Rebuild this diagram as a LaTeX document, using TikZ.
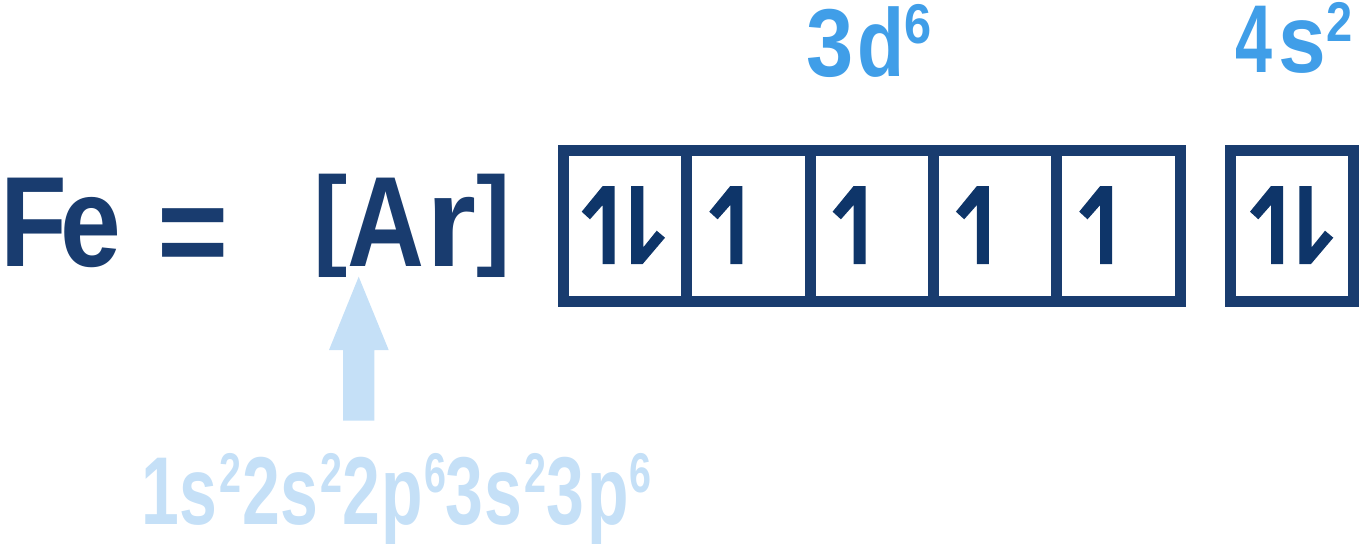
\documentclass[tikz,border=0pt]{standalone}
\usepackage{fontspec}
\setmainfont{Liberation Sans}
\definecolor{navy}{RGB}{25,60,111}
\definecolor{harp}{RGB}{14,53,105}
\definecolor{midblue}{RGB}{64,158,232}
\definecolor{lightblue}{RGB}{197,224,247}
\newcommand\SupTxt[2]{\raisebox{#1pt}{\fontsize{56}{56}\selectfont #2}}
\newcommand\UpHarp[1]{\fill[harp] ({#1+39.2},186) -- ({#1+51.2},186) -- ({#1+51.2},264) -- ({#1+39.2},264) -- ({#1+39.2},205) -- ({#1+26.5},219.3) -- ({#1+18.2},211.7) -- cycle;}
\newcommand\DownHarp[1]{\fill[harp] ({#1+67.5},186) -- ({#1+79.8},186) -- ({#1+79.8},247.3) -- ({#1+93.2},230.7) -- ({#1+101.5},237.7) -- ({#1+79.2},264) -- ({#1+67.5},264) -- cycle;}
\newcommand\Brk[1]{\raisebox{11.3pt}{\scalebox{0.8}[0.863]{#1}}}
\begin{document}
\begin{tikzpicture}[x=1pt,y=-1pt,
  txt/.style={inner sep=0pt, outer sep=0pt, anchor=base west},
  big/.style={font=\fontsize{128.5}{130}\selectfont\bfseries},
  mid/.style={font=\fontsize{96.4}{98}\selectfont\bfseries},
  cell/.style={draw=navy, line width=11pt, inner sep=0pt, outer sep=0pt, minimum width=123.3pt, minimum height=151pt}]
\useasboundingbox (0,0) rectangle (1360,544);
% texts
\node[txt, big, text=navy] (fe) at (0,266) {\scalebox{0.85}[1]{F\kern-7pt e}};
\node[txt, big, text=navy] (eq) at (157,275) {\scalebox{0.95}[1]{=}};
\node[txt, big, text=navy] (ar) at (313,266) {\Brk{[}\scalebox{0.83}[1]{A}\kern2.2pt r\Brk{]}};
\node[txt, mid, text=midblue] (d6) at (806.3,76) {\scalebox{0.88}[1]{3}\kern3.8pt\scalebox{0.8}[1]{d}\scalebox{0.87}[1]{\SupTxt{32.5}{6}}};
\node[txt, mid, text=midblue] (s2) at (1235,72) {\scalebox{0.69}[1]{4}\kern6.4pt\scalebox{0.89}[1]{s}\scalebox{0.84}[1]{\SupTxt{31}{2}}};
\node[txt, mid, text=lightblue] (core) at (141,524) {\scalebox{0.705}[1]{1\kern1.3pt s\kern2.6pt\SupTxt{32}{2}\kern2.3pt 2s\kern2.3pt\SupTxt{32}{2}\kern0.5pt 2\kern2.4pt p\kern0.9pt\SupTxt{32}{6}\kern-0.6pt 3\kern2pt s\kern2.6pt\SupTxt{32}{2}3\kern4.7pt p\kern0.8pt\SupTxt{32}{6}}};
% block arrow from [Ar] down to the core configuration
\fill[lightblue] (358.7,276.7) -- (388.7,350) -- (374.3,350) -- (374.3,420.7) -- (343,420.7) -- (343,350) -- (329,350) -- cycle;
% 3d cells
\foreach \k in {1,...,5} {
  \node[cell] (d\k) at ({625.15+123.3*(\k-1)},226) {};
}
\node[cell, minimum width=123pt] (s1) at (1292,226) {};
% harpoons
\UpHarp{563.5}\DownHarp{563.5}
\UpHarp{691.1}
\UpHarp{814.4}
\UpHarp{937.7}
\UpHarp{1061.0}
\UpHarp{1231.8}\DownHarp{1231.8}
\end{tikzpicture}
\end{document}
